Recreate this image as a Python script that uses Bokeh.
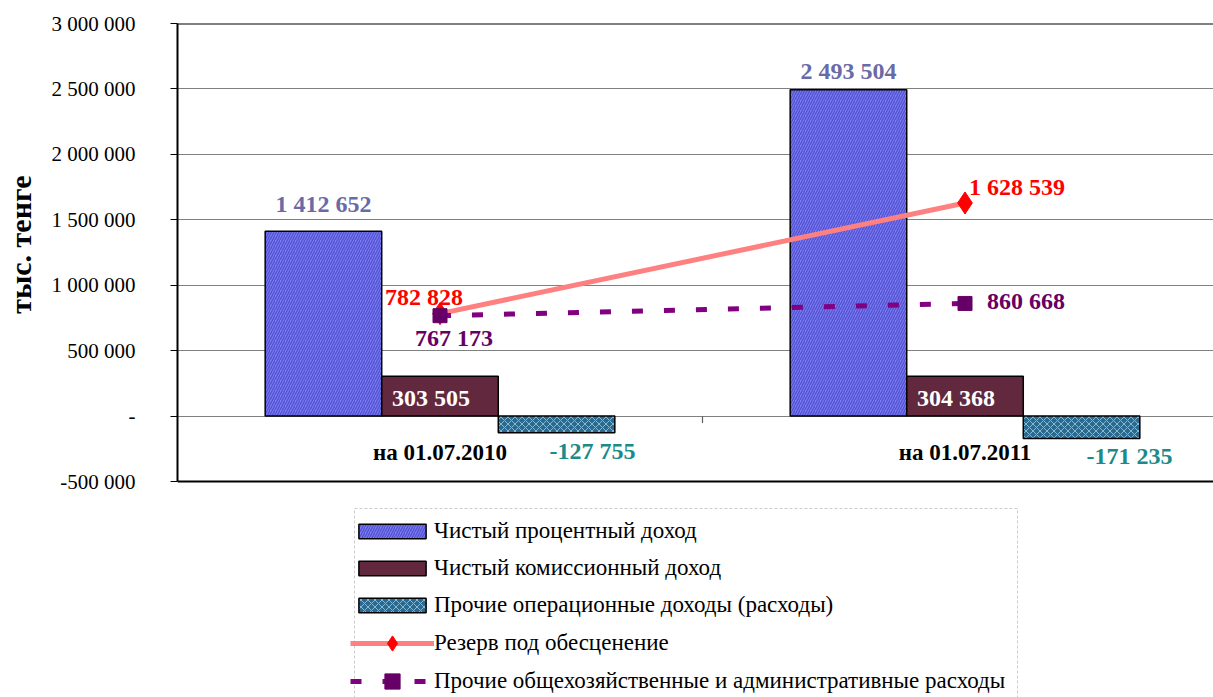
from bokeh.plotting import figure
from bokeh.models import (Range1d, FixedTicker, Legend, LegendItem, Label, Span,
                          Title, BoxAnnotation)
from bokeh.embed import file_html
from bokeh.resources import INLINE

# ---- data ----
categories = ["на 01.07.2010", "на 01.07.2011"]
net_interest = [1412652, 2493504]
net_commission = [303505, 304368]
other_operating = [-127755, -171235]
impairment_reserve = [782828, 1628539]
admin_expenses = [767173, 860668]
y_ticks = [-500000, 0, 500000, 1000000, 1500000, 2000000, 2500000, 3000000]
y_tick_labels = ["-500 000", "-", "500 000", "1 000 000", "1 500 000",
                 "2 000 000", "2 500 000", "3 000 000"]
series_names = ["Чистый процентный доход", "Чистый комиссионный доход",
                "Прочие операционные доходы (расходы)", "Резерв под обесценение",
                "Прочие общехозяйственные и административные расходы"]

FONT = "Liberation Serif"


def fmt(v):
    s = "{:,}".format(abs(v)).replace(",", " ")
    return ("-" if v < 0 else "") + s


xs = [i + 0.5 for i in range(len(categories))]
bounds_x = [(a + b) / 2 for a, b in zip(xs[:-1], xs[1:])]
bw = 0.222

W, H = 1213, 697
left, top = 177, 23
px_per_cat = 525.0
axis_px = 458                       # pixel height of the value axis
y_lo, y_hi = y_ticks[0], y_ticks[-1]
per_px = (y_hi - y_lo) / axis_px
frame_h = H - top
y_start = y_hi - frame_h * per_px   # frame extends below axis to hold the legend


def xd(px):   # page px -> data x (layout helper for the legend box)
    return (px - left) / px_per_cat


def yd(py):   # page px -> data y
    return y_hi - (py - top) * per_px


p = figure(width=W, height=H, x_range=Range1d(0, (W - left) / px_per_cat),
           y_range=Range1d(y_start, y_hi), output_backend="svg",
           toolbar_location=None, x_axis_location=None,
           min_border_left=left, min_border_right=0,
           min_border_top=top, min_border_bottom=0)
p.outline_line_color = None
p.background_fill_color = "white"
p.border_fill_color = "white"

# y axis
ya = p.yaxis[0]
ya.bounds = (y_lo, y_hi)
ya.ticker = FixedTicker(ticks=y_ticks)
ya.major_label_overrides = {t: l for t, l in zip(y_ticks, y_tick_labels)}
ya.major_label_text_font = FONT
ya.major_label_text_font_size = "21px"
ya.major_label_text_color = "black"
ya.major_tick_out = 7
ya.major_tick_in = 0
ya.minor_tick_out = 0
ya.minor_tick_in = 0
ya.axis_line_color = "black"
ya.axis_line_width = 2
ya.major_tick_line_color = "black"
ya.major_label_standoff = 35
# blank spacer between tick labels and the unit title
ya.axis_label = " "
ya.axis_label_text_font_size = "8px"
ya.axis_label_standoff = 0

p.add_layout(Title(text="тыс. тенге", align="right", offset=152,
                   text_font=FONT, text_font_style="bold",
                   text_font_size="30px", text_color="black", standoff=0),
             "left")

p.ygrid.ticker = FixedTicker(ticks=y_ticks)
p.ygrid.grid_line_color = "#808080"
p.ygrid.grid_line_width = 1.2
p.xgrid.grid_line_color = None

p.add_layout(Span(location=y_hi, dimension="width", line_color="black", line_width=2))
p.add_layout(Span(location=y_lo, dimension="width", line_color="black", line_width=2))

# category tick between groups (7 px long, below zero line)
p.segment(x0=bounds_x, y0=[0] * len(bounds_x), x1=bounds_x,
          y1=[-7 * per_px] * len(bounds_x), line_color="#606060", line_width=1.2)

# bars
r_blue = p.vbar(x=[x - bw for x in xs], top=net_interest, bottom=0, width=bw,
                fill_color="#8282f4", hatch_pattern="/", hatch_color="#4e4ed0",
                hatch_scale=5, hatch_weight=1.5, hatch_alpha=0.9,
                line_color="black", line_width=1.5)
r_maroon = p.vbar(x=xs, top=net_commission, bottom=0, width=bw,
                  fill_color="#62283e", line_color="black", line_width=1.5)
r_teal = p.vbar(x=[x + bw for x in xs], top=0, bottom=other_operating, width=bw,
                fill_color="#2a6a90", hatch_pattern="x", hatch_color="#86b8d2",
                hatch_scale=7, hatch_weight=1, line_color="black", line_width=1.5)

# lines
r_red_line = p.line(xs, impairment_reserve, line_color="#ff8080", line_width=5)
r_red_pts = p.scatter(xs, impairment_reserve, marker="diamond", size=22,
                      fill_color="#ff0000", line_color="#ff0000")
r_pur_line = p.line(xs, admin_expenses, line_color="#800080", line_width=5,
                    line_dash="11 21")
r_pur_pts = p.scatter(xs, admin_expenses, marker="square", size=14,
                      fill_color="#660066", line_color="#660066")


def add_label(x, y, text, color, dx, dy, align="center", size="24px"):
    p.add_layout(Label(x=x, y=y, text=text, x_offset=dx, y_offset=dy,
                       text_align=align, text_baseline="middle",
                       text_font=FONT, text_font_style="bold",
                       text_font_size=size, text_color=color))


# category labels under the zero line
for x, c in zip(xs, categories):
    add_label(x, 0, c, "black", 0, -36, size="23px")

# value labels (screen px offsets, y up)
blue_dy = [27, 19]
for x, v, dy in zip(xs, net_interest, blue_dy):
    add_label(x - bw, v, fmt(v), "#6a6aa6", 0, dy)
for x, v in zip(xs, net_commission):
    add_label(x, v, fmt(v), "white", -9, -22)
teal_dx = [36, 48]
for x, v, dx in zip(xs, other_operating, teal_dx):
    add_label(x + bw, v, fmt(v), "#1a8a8a", dx, -18)
red_pos = [(-16, 17, "center"), (4, 16, "left")]
for x, v, (dx, dy, al) in zip(xs, impairment_reserve, red_pos):
    add_label(x, v, fmt(v), "#ff0000", dx, dy, al)
pur_pos = [(14, -22, "center"), (22, 2, "left")]
for x, v, (dx, dy, al) in zip(xs, admin_expenses, pur_pos):
    add_label(x, v, fmt(v), "#660066", dx, dy, al)

# legend box (dashed frame) and two legends sharing it
p.add_layout(BoxAnnotation(left=xd(354), right=xd(1017), top=yd(508), bottom=yd(705),
                           fill_color="white", fill_alpha=1,
                           line_color="#555555", line_dash="3 2", line_width=1))


def style_legend(lg, glyph_h, spacing):
    lg.label_text_font = FONT
    lg.label_text_font_size = "23px"
    lg.label_text_color = "black"
    lg.glyph_width = 84
    lg.glyph_height = glyph_h
    lg.label_height = 27
    lg.spacing = spacing
    lg.padding = 4
    lg.margin = 0
    lg.label_standoff = 0
    lg.border_line_color = None
    lg.background_fill_alpha = 0


pad = 4
glyph_x0 = 354
# bars: rows at about 530, 568, 606
lg1_bottom = 527 - 13.5 - pad + 2 * pad + 3 * 27 + 2 * 10
legend1 = Legend(items=[
    LegendItem(label=series_names[0], renderers=[r_blue]),
    LegendItem(label=series_names[1], renderers=[r_maroon]),
    LegendItem(label=series_names[2], renderers=[r_teal]),
], location=(glyph_x0 - pad - left, H - lg1_bottom))
style_legend(legend1, 18, 10)
# lines: rows at about 642, 680
lg2_bottom = 639 - 19 - pad + 2 * pad + 2 * 38
legend2 = Legend(items=[
    LegendItem(label=series_names[3], renderers=[r_red_line, r_red_pts]),
    LegendItem(label=series_names[4], renderers=[r_pur_line, r_pur_pts]),
], location=(glyph_x0 - pad - left, H - lg2_bottom))
style_legend(legend2, 38, 0)
p.add_layout(legend1, "center")
p.add_layout(legend2, "center")

open("out.html", "w").write(file_html(p, INLINE))
